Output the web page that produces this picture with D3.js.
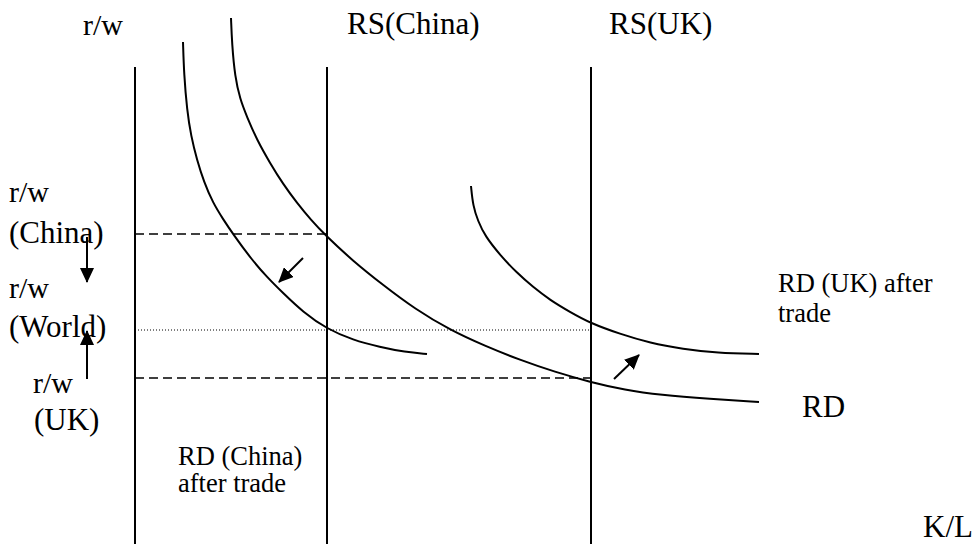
<!DOCTYPE html>
<html>
<head>
<meta charset="utf-8">
<script src="https://cdn.jsdelivr.net/npm/d3@7"></script>
<style>
  body { margin: 0; background: #fff; }
</style>
</head>
<body>
<div id="chart"></div>
<script>
const WIDTH = 975
const HEIGHT = 544
const FONT = "'Liberation Serif', 'DejaVu Serif', 'Times New Roman', Times, serif"

// relative factor price (r/w) against relative factor supply (K/L)
const rsChina = 192
const rsUK = 456
const rwChina = 310
const rwWorld = 214
const rwUK = 166
const axisTop = 477

// curves: [K/L, r/w]
const rdPoints = [[96,526],[97,500],[100,467],[105,445],[112,427],[122,404],[135,381],[148,360],[162,341],[176,324],[190,309],[218,283],[248,259],[280,235],[315,214],[350,198],[385,184],[420,172],[455,162],[490,154],[525,149],[575,145],[624,142]]
const rdChinaPoints = [[48,502],[49,470],[52,434],[56,408],[62,384],[69,362],[78,341],[88,325],[98,310],[117,284],[132,267],[148,251],[168,232],[192,215],[218,204],[245,197],[270,192],[292,190]]
const rdUKPoints = [[336,358],[338,338],[343,323],[350,308],[365,289],[382,271],[398,257],[415,244],[435,232],[455,221],[485,210],[515,201],[548,195],[582,191],[624,190]]

// shift arrows [from, to]
const shiftArrows = [
  [[168,286],[144,262]],
  [[479,165],[504,189]],
  [[-48,307],[-48,262]],
  [[-48,165],[-48,213]]
]

const x = d3.scaleLinear().domain([0, 840]).range([135, 975])
const y = d3.scaleLinear().domain([0, 544]).range([544, 0])

const svg = d3.select("#chart").append("svg")
    .attr("width", WIDTH)
    .attr("height", HEIGHT)

svg.append("defs").append("marker")
    .attr("id", "head")
    .attr("markerUnits", "userSpaceOnUse")
    .attr("viewBox", "0 0 15 14")
    .attr("refX", 14).attr("refY", 7)
    .attr("markerWidth", 15).attr("markerHeight", 14)
    .attr("orient", "auto")
  .append("path")
    .attr("d", "M0,0 L15,7 L0,14 Z")
    .attr("fill", "#000")

// vertical lines: axis and the two relative supply lines
svg.selectAll(".vline")
  .data([0, rsChina, rsUK])
  .enter().append("line")
    .attr("x1", d => x(d)).attr("x2", d => x(d))
    .attr("y1", y(axisTop)).attr("y2", y(0))
    .attr("stroke", "#000").attr("stroke-width", 2)

// factor price guide lines
const guides = [
  {v: rwChina, end: rsChina, dash: "9,5", w: 1.5},
  {v: rwWorld, end: rsUK, dash: "1,2", w: 1},
  {v: rwUK, end: rsUK, dash: "9,5", w: 1.5}
]
svg.selectAll(".guide")
  .data(guides)
  .enter().append("line")
    .attr("x1", x(0)).attr("x2", d => x(d.end))
    .attr("y1", d => y(d.v)).attr("y2", d => y(d.v))
    .attr("stroke", "#000")
    .attr("stroke-width", d => d.w)
    .attr("stroke-dasharray", d => d.dash)

const line = d3.line()
    .x(d => x(d[0]))
    .y(d => y(d[1]))
    .curve(d3.curveBasis)

svg.selectAll(".curve")
  .data([rdPoints, rdChinaPoints, rdUKPoints])
  .enter().append("path")
    .attr("d", line)
    .attr("fill", "none")
    .attr("stroke", "#000")
    .attr("stroke-width", 2)

svg.selectAll(".arrow")
  .data(shiftArrows)
  .enter().append("line")
    .attr("x1", d => x(d[0][0])).attr("y1", d => y(d[0][1]))
    .attr("x2", d => x(d[1][0])).attr("y2", d => y(d[1][1]))
    .attr("stroke", "#000").attr("stroke-width", 2)
    .attr("marker-end", "url(#head)")

// text labels
const labels = [
  {t: "r/w", x: 83, y: 35, s: 30},
  {t: "RS(China)", x: 347, y: 34, s: 31},
  {t: "RS(UK)", x: 609, y: 34, s: 31},
  {t: "r/w", x: 9, y: 202, s: 30},
  {t: "(China)", x: 9, y: 243, s: 31},
  {t: "r/w", x: 9, y: 298, s: 30},
  {t: "(World)", x: 9, y: 337, s: 31},
  {t: "r/w", x: 33, y: 393, s: 30},
  {t: "(UK)", x: 34, y: 430, s: 31},
  {t: "RD (UK) after", x: 778, y: 292, s: 26.5},
  {t: "trade", x: 778, y: 322, s: 26.5},
  {t: "RD", x: 802, y: 417, s: 31},
  {t: "RD (China)", x: 178, y: 465, s: 26.5},
  {t: "after trade", x: 178, y: 492, s: 26.5},
  {t: "K/L", x: 923, y: 537, s: 31}
]
svg.selectAll(".label")
  .data(labels)
  .enter().append("text")
    .attr("x", d => d.x)
    .attr("y", d => d.y)
    .attr("font-family", FONT)
    .attr("font-size", d => d.s)
    .attr("fill", "#000")
    .text(d => d.t)
</script>
</body>
</html>
